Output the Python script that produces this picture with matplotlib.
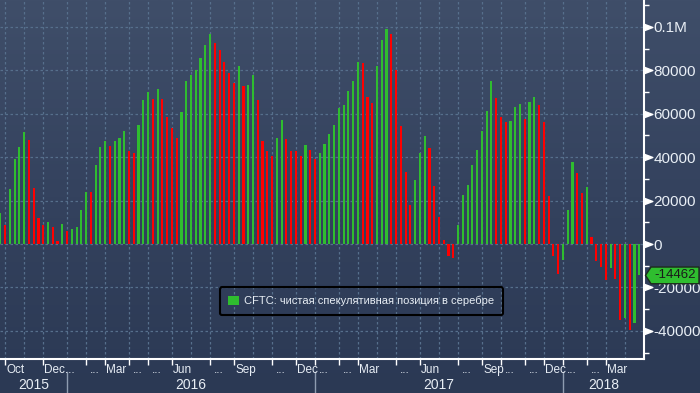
import numpy as np
import pandas as pd
import matplotlib
matplotlib.use("Agg")
import matplotlib.pyplot as plt
from matplotlib.patches import Patch, Polygon
from matplotlib.path import Path
from matplotlib.colors import LinearSegmentedColormap
from matplotlib.transforms import blended_transform_factory
from matplotlib.ticker import MultipleLocator, FuncFormatter

plt.rcParams['font.family'] = ['Liberation Sans Narrow', 'Liberation Sans', 'DejaVu Sans']

# CFTC net speculative position in silver, weekly (Tuesdays), contracts
start_date = "2015-09-29"
net_position = [
    14300, 8800, 25400, 39400, 44800, 51700, 48000, 25900, 12000, 8800,
    10200, 7900, 1400, 9200, 6000, 6900, 7900, 15700, 24000, 23800,
    36500, 44800, 47600, 45300, 47600, 49000, 52200, 43000, 42000, 55000,
    66500, 70200, 67000, 71600, 66900, 58700, 53600, 49000, 61000, 75300,
    78100, 80400, 85500, 91500, 96600, 92400, 89200, 84100, 79000, 74400,
    82200, 73000, 73500, 78100, 66500, 47600, 43000, 40700, 49000, 57300,
    48500, 43000, 42900, 40700, 45700, 43400, 39300, 42000, 46200, 50800,
    55000, 62800, 64200, 70700, 75300, 84100, 83200, 67900, 65100, 81800,
    93800, 98900, 96600, 80400, 54500, 33300, 18000, 29600, 42000, 49900,
    44400, 26800, 12500, 1800, -5500, -6500, 8800, 22600, 27300, 36500,
    43400, 52200, 61400, 75300, 67500, 58700, 56400, 56500, 63300, 64700,
    57800, 65600, 67900, 64200, 56400, 22200, -5500, -13900, -7400, 15700,
    37900, 32800, 23600, 26300, 3200, -7900, -10600, -16600, -11100, -16200,
    -35100, -34200, -39700, -36500, -14462,
]
series_name = "CFTC: чистая спекулятивная позиция в серебре"

# month labels shown on the axis (others get no label)
month_text = {
    (2015, 10): "Oct", (2015, 12): "Dec...",
    (2016, 2): "...", (2016, 3): "Mar", (2016, 4): "...", (2016, 5): "...",
    (2016, 6): "Jun", (2016, 8): "...", (2016, 9): "Sep", (2016, 11): "...",
    (2016, 12): "Dec",
    (2017, 1): "...", (2017, 2): "...", (2017, 3): "Mar", (2017, 5): "...",
    (2017, 6): "Jun", (2017, 8): "...", (2017, 9): "Sep", (2017, 10): "...",
    (2017, 11): "...", (2017, 12): "Dec",
    (2018, 1): "...", (2018, 2): "...", (2018, 3): "Mar",
}

green = '#2fbd2f'
red = '#ff0000'
grid_c = '#566f8c'
text_c = '#e8eef5'

dates = pd.date_range(start_date, periods=len(net_position), freq="7D")
x = np.arange(len(net_position))
vals = np.array(net_position)
colors = [green] + [green if d >= 0 else red for d in np.diff(vals)]

month_idx = [i for i in range(1, len(dates)) if dates[i].month != dates[i - 1].month]
year_idx = [i for i in range(1, len(dates)) if dates[i].year != dates[i - 1].year]

fig = plt.figure(figsize=(7, 3.93), dpi=100)

# background gradient
bg = fig.add_axes([0, 0, 1, 1], zorder=-10)
cmap = LinearSegmentedColormap.from_list('bg', ['#2b3954', '#34425e', '#3f4e69'])
bg.imshow(np.linspace(0, 1, 256).reshape(-1, 1), aspect='auto', cmap=cmap,
          origin='lower', extent=[0, 1, 0, 1])
bg.axis('off')

ax = fig.add_axes([0, 1 - 359.3 / 393, 644 / 700, 359.3 / 393])
ax.set_facecolor('none')

ax.bar(x, vals, width=0.45, color=colors, zorder=3)
ax.set_xlim(-0.06, len(vals))
ax.set_ylim(-53130, 112440)

# grid
yticks = list(range(-40000, 100001, 20000))
ax.set_yticks(yticks)
for yv in yticks:
    ax.axhline(yv, color=grid_c, ls=(0, (2, 2)), lw=0.9, zorder=1)
for m in month_idx:
    ax.axvline(m, color=grid_c, ls=(0, (2, 2)), lw=0.9, zorder=1)

# spines
for s in ['left', 'top']:
    ax.spines[s].set_visible(False)
for s in ['right', 'bottom']:
    ax.spines[s].set_color('white')
    ax.spines[s].set_linewidth(1.5)

# y axis on the right
ax.yaxis.tick_right()
ax.yaxis.set_minor_locator(MultipleLocator(10000))
ax.yaxis.set_major_formatter(FuncFormatter(lambda v, p: "0.1M" if v >= 100000 else f"{v:.0f}"))
ax.tick_params(axis='y', which='major', length=0, pad=7, labelsize=11, labelcolor=text_c)
ax.tick_params(axis='y', which='minor', length=3.5, width=1, color='white', direction='out')
tri = Path([(0, -0.38), (1, 0), (0, 0.38), (0, -0.38)],
           [Path.MOVETO, Path.LINETO, Path.LINETO, Path.CLOSEPOLY])
ax.plot(np.ones(len(yticks)), yticks, ls='none', marker=tri, ms=12, color='white',
        transform=blended_transform_factory(ax.transAxes, ax.transData), clip_on=False)

# x axis: month ticks and labels
tr = blended_transform_factory(ax.transData, fig.transFigure)
lab_idx = [i for i in month_idx if (dates[i].year, dates[i].month) in month_text]
ax.set_xticks(lab_idx)
ax.set_xticklabels([])
ax.tick_params(axis='x', length=4, width=1, color='white')
for i in lab_idx:
    txt = month_text[(dates[i].year, dates[i].month)]
    off = 0.85 if txt.startswith('.') else 0.25
    ax.text(i + off, 0.0585, txt, transform=tr, ha='left', va='center',
            fontsize=8.5, color=text_c)

# years and separators
edges = [ax.get_xlim()[0]] + year_idx + [ax.get_xlim()[1]]
for k in range(len(edges) - 1):
    ax.text((edges[k] + edges[k + 1]) / 2, 0.02, str(dates[0].year + k), transform=tr,
            ha='center', va='center', fontsize=10, color=text_c)
for yi in year_idx:
    ax.plot([yi, yi], [0, 0.054], transform=tr, color='#8e9cb0', lw=1, clip_on=False)

# legend
leg = ax.legend(handles=[Patch(fc=green, ec='none', label=series_name)],
                loc='center', bbox_to_anchor=(0.561, 0.162), fancybox=True,
                facecolor='none', edgecolor='black', labelcolor=text_c, fontsize=8.0,
                handlelength=0.95, handleheight=0.95, handletextpad=0.5,
                borderpad=0.75, framealpha=1)
leg.get_frame().set_linewidth(1.5)

# last value tag
last = vals[-1]
half = 3850
tag_tr = blended_transform_factory(fig.transFigure, ax.transData)
tag = Polygon([(645.5 / 700, last), (651 / 700, last + half), (699 / 700, last + half),
               (699 / 700, last - half), (651 / 700, last - half)],
              closed=True, fc=green, ec='#1d2b1d', lw=1, transform=tag_tr,
              clip_on=False, zorder=10)
ax.add_patch(tag)
ax.text(675 / 700, last, f"{last:.0f}", transform=tag_tr, ha='center', va='center',
        fontsize=9.5, color='#1a1a1a', zorder=11, clip_on=False)

fig.savefig('out.png', dpi=100)
